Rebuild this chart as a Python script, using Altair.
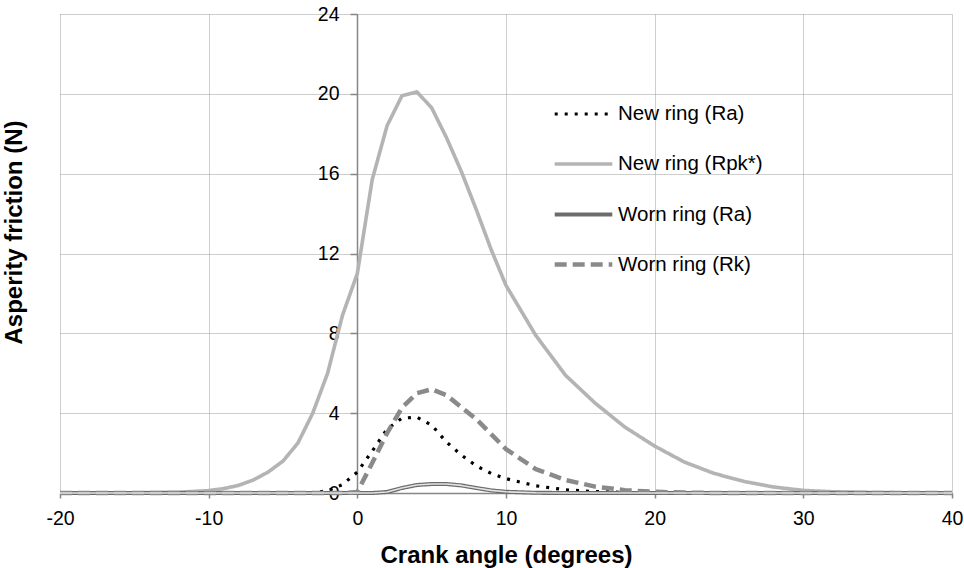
import altair as alt
import pandas as pd

# Crank angle (degrees)
angles = [-20, -15, -12, -10, -9, -8, -7, -6, -5, -4, -3, -2, -1, 0, 1, 2, 3, 4, 5, 6,
          7, 8, 9, 10, 12, 14, 16, 18, 20, 22, 24, 26, 28, 30, 32, 35, 40]

# Asperity friction (N) per series
new_ra = [0, 0, 0, 0, 0, 0, 0, 0, 0, 0.01, 0.03, 0.1, 0.42, 1.05, 2.1, 3.2, 3.75, 3.8, 3.4, 2.55,
          1.9, 1.36, 0.98, 0.72, 0.36, 0.16, 0.07, 0.03, 0.01, 0, 0, 0, 0, 0, 0, 0, 0]
new_rpk = [0, 0.01, 0.04, 0.12, 0.22, 0.38, 0.65, 1.05, 1.6, 2.5, 4.0, 6.0, 8.9, 11.0, 15.7, 18.4, 19.9, 20.1, 19.3, 17.8,
           16.1, 14.2, 12.2, 10.4, 7.9, 5.9, 4.5, 3.3, 2.35, 1.55, 0.98, 0.58, 0.3, 0.13, 0.06, 0.02, 0]
worn_ra = [0, 0, 0, 0, 0, 0, 0, 0, 0, 0, 0, 0, 0, 0, 0, 0.05, 0.25, 0.4, 0.45, 0.45,
           0.38, 0.25, 0.13, 0.06, 0.01, 0, 0, 0, 0, 0, 0, 0, 0, 0, 0, 0, 0]
worn_rk = [0, 0, 0, 0, 0, 0, 0, 0, 0, 0, 0, 0, 0, 0.05, 1.5, 3.0, 4.27, 5.0, 5.2, 4.9,
           4.3, 3.7, 2.95, 2.2, 1.2, 0.65, 0.32, 0.14, 0.06, 0.02, 0, 0, 0, 0, 0, 0, 0]

series_names = ["New ring (Ra)", "New ring (Rpk*)", "Worn ring (Ra)", "Worn ring (Rk)"]

x_ticks = [-20, -10, 0, 10, 20, 30, 40]
y_ticks = [0, 4, 8, 12, 16, 20, 24]

rows = []
for name, vals in zip(series_names, [new_ra, new_rpk, worn_ra, worn_rk]):
    for a, v in zip(angles, vals):
        rows.append({"angle": a, "friction": v, "series": name})
df = pd.DataFrame(rows)

color_range = ["#000000", "#b4b4b4", "#6c6c6c", "#8a8a8a"]
dash_range = [[3, 7], [1, 0], [1, 0], [12, 6]]
width_range = [3.2, 4.5, 4.5, 4]

x_enc = alt.X(
    "angle:Q",
    scale=alt.Scale(domain=[-20, 40], nice=False, zero=False),
    axis=alt.Axis(
        values=x_ticks, tickSize=5, labelPadding=11, labelFontSize=19.5,
        labelFlush=False, labelOverlap=False, labelExpr="datum.value + ''",
        title="Crank angle (degrees)", titleFontSize=24, titleFontWeight="bold",
        titleX=446, titleY=69, titleBaseline="alphabetic", titleAlign="center",
        domainWidth=1.5, grid=True,
    ),
)
y_enc = alt.Y(
    "friction:Q",
    scale=alt.Scale(domain=[0, 24], nice=False),
    axis=alt.Axis(
        values=y_ticks, offset=-297, tickSize=7, labelPadding=11, labelFontSize=19.5,
        labelOverlap=False, labelFlush=False, labelExpr="datum.value + ''",
        title="Asperity friction (N)", titleFontSize=24, titleFontWeight="bold",
        titleX=-336, titleY=218, titleAngle=270, titleAlign="center",
        titleBaseline="alphabetic", domainWidth=1.5, grid=True,
    ),
)

legend = alt.Legend(
    title=None, orient="none", legendX=509, legendY=86, padding=0,
    symbolType="M-2.4,0H2.4", symbolSize=576,
    labelFontSize=20.5, labelFont="Liberation Sans", labelColor="black",
    labelOffset=20, rowPadding=25, labelLimit=400,
)

lines = alt.Chart(df).mark_line(strokeJoin="round").encode(
    x=x_enc,
    y=y_enc,
    color=alt.Color("series:N", scale=alt.Scale(domain=series_names, range=color_range), legend=legend),
    strokeDash=alt.StrokeDash("series:N", scale=alt.Scale(domain=series_names, range=dash_range), legend=legend),
    strokeWidth=alt.StrokeWidth("series:N", scale=alt.Scale(domain=series_names, range=width_range), legend=legend),
)

inner = alt.Chart(df).transform_filter(
    alt.datum.series == "Worn ring (Ra)"
).mark_line(color="#e4e4e4", strokeWidth=1.6, strokeJoin="round").encode(x=x_enc, y=y_enc)

chart = alt.layer(lines, inner).properties(
    width=892, height=479,
    autosize=alt.AutoSizeParams(type="none"),
    padding={"left": 60, "top": 14, "right": 12, "bottom": 75},
).configure_view(strokeWidth=0).configure_axis(
    gridColor="#9c9c9c", gridDash=[1, 1], gridWidth=1,
    domainColor="#868686", tickColor="#868686", tickWidth=1.5,
    labelFont="Liberation Sans", labelColor="black",
    titleFont="Liberation Sans", titleColor="black",
)

chart.save("out.html", embed_options={"renderer": "svg", "actions": False})
